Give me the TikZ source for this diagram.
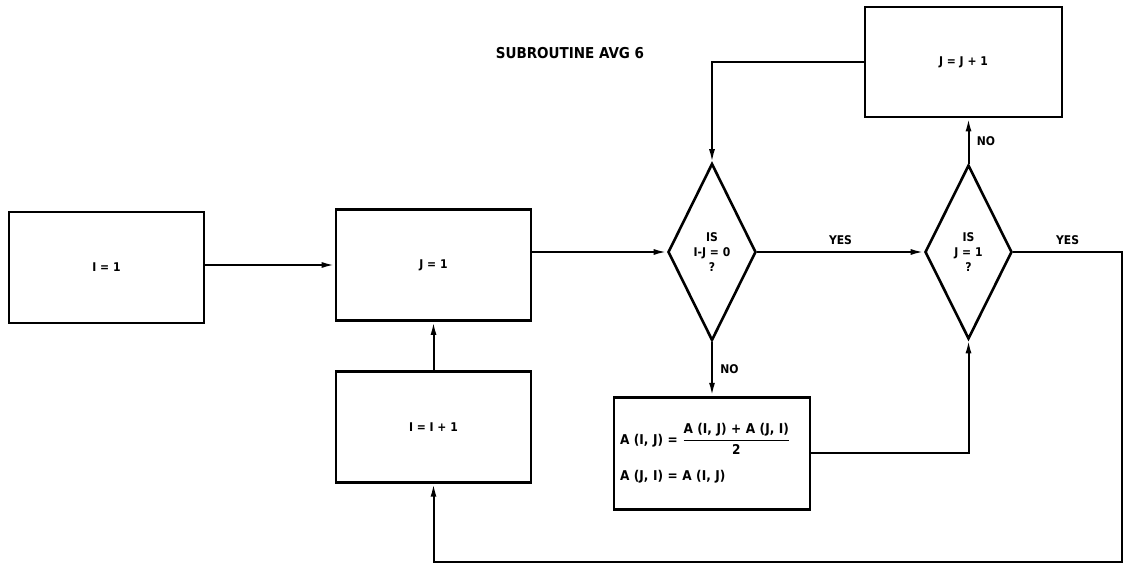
\documentclass[tikz,border=0pt]{standalone}
\usepackage{amsmath}
\usepackage{fontspec}
\setmainfont{DejaVu Sans Condensed}
\usepackage{tikz}
\usetikzlibrary{arrows.meta, positioning, shapes.geometric}

\begin{document}
\begin{tikzpicture}[x=1pt, y=1pt, node distance=48pt,
  block/.style={rectangle, draw, line width=2.8pt, minimum width=195pt, minimum height=111pt, font=\fontsize{12}{15}\selectfont\bfseries, align=center},
  test/.style={diamond, draw, line width=2.6pt, inner sep=0pt, font=\fontsize{12}{15}\selectfont\bfseries, align=center},
  lbl/.style={font=\fontsize{12}{13}\selectfont\bfseries},
  arrow/.style={-{Latex[length=13pt,width=6pt]}, line width=2pt}]

\useasboundingbox (0,0) rectangle (1129,-564);

\node[font=\fontsize{15}{18}\selectfont\bfseries] (title) at (570,-53) {SUBROUTINE AVG 6};

\node[block] (i1) at (106.5,-267.5) {I = 1};
\node[block] (j1) at (433.5,-265) {J = 1};
\node[block, below=48pt of j1] (iinc) {I = I + 1};

\node[test, minimum width=88pt, minimum height=177pt] (test1) at (712,-252) {IS\\I-J = 0\\?};
\node[test, minimum width=87pt, minimum height=174pt] (test2) at (968.5,-252) {IS\\J = 1\\?};

\node[block, minimum width=197pt, minimum height=110pt] (jinc) at (963.5,-62) {J = J + 1};
\node[block, below=54pt of test1, minimum width=196pt, minimum height=112pt, text width=184pt, inner xsep=6pt, align=left, font=\fontsize{13.5}{16}\selectfont\bfseries] (avg)
  {$\text{A (I, J)}\text{ = }\genfrac{}{}{1.2pt}{0}{\text{A (I, J) + A (J, I)}}{\text{2}}$\\[14pt]A (J, I) = A (I, J)};

\coordinate (ret) at (1122,-562);

% main line
\draw[arrow] (i1.east |- j1) -- (j1.west);
\draw[arrow] (test1.west -| j1.east) -- (test1.west);
\draw[arrow] (test1.east) -- node[lbl, above=3pt] {YES} (test2.west);

% loop on J
\draw[arrow] (test2.north) -- node[lbl, right=4pt] {NO} (test2.north |- jinc.south);
\draw[arrow] (jinc.west) -| (test1.north);
\draw[arrow] (test1.south) -- node[lbl, right=4pt] {NO} (test1.south |- avg.north);
\draw[arrow] (avg.east) -| (test2.south);

% back to I
\draw[arrow] (test2.east) -| node[lbl, pos=0.25, above=3pt] {YES} (ret) -| (iinc.south);
\draw[arrow] (iinc) -- (j1);
\end{tikzpicture}
\end{document}
